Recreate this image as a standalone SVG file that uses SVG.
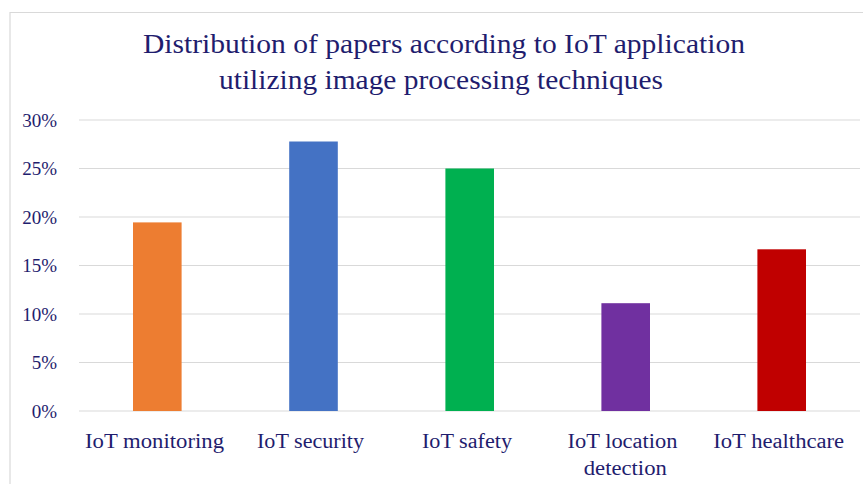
<svg xmlns="http://www.w3.org/2000/svg" width="863" height="484" viewBox="0 0 863 484">
  <style>
    .txt { font-family: "Liberation Serif", "DejaVu Serif", serif; fill: #1F1D6E; }
    .title { font-size: 27px; text-anchor: middle; }
    .ytick { font-size: 19px; text-anchor: end; }
    .xcat { font-size: 20.5px; text-anchor: middle; }
    .grid { stroke: #D9D9D9; stroke-width: 1.2; }
    .frame { stroke: #D9D9D9; stroke-width: 1.2; fill: none; }
  </style>

  <rect x="0" y="0" width="863" height="484" fill="#FFFFFF"/>
  <!-- chart area border -->
  <path class="frame" d="M10,490 V12.5 H870"/>

  <!-- title -->
  <g id="title">
    <text class="txt title" x="444" y="52.5" textLength="602" lengthAdjust="spacingAndGlyphs">Distribution of papers according to IoT application</text>
    <text class="txt title" x="441" y="88.5" textLength="444" lengthAdjust="spacingAndGlyphs">utilizing image processing techniques</text>
  </g>

  <!-- gridlines and value axis -->
  <g id="gridlines">
    <line class="grid" x1="79" y1="120" x2="860" y2="120"/>
    <line class="grid" x1="79" y1="168.5" x2="860" y2="168.5"/>
    <line class="grid" x1="79" y1="217" x2="860" y2="217"/>
    <line class="grid" x1="79" y1="265.5" x2="860" y2="265.5"/>
    <line class="grid" x1="79" y1="314" x2="860" y2="314"/>
    <line class="grid" x1="79" y1="362.5" x2="860" y2="362.5"/>
    <line class="grid" x1="79" y1="411" x2="860" y2="411"/>
  </g>
  <g id="y-axis">
    <text class="txt ytick" x="57" y="126.5">30%</text>
    <text class="txt ytick" x="57" y="175">25%</text>
    <text class="txt ytick" x="57" y="223.5">20%</text>
    <text class="txt ytick" x="57" y="272">15%</text>
    <text class="txt ytick" x="57" y="320.5">10%</text>
    <text class="txt ytick" x="57" y="369">5%</text>
    <text class="txt ytick" x="57" y="417.5">0%</text>
  </g>

  <!-- bars -->
  <g id="bar-monitoring"><rect x="133" y="222.4" width="48.6" height="188.6" fill="#ED7D31"/></g>
  <g id="bar-security"><rect x="289.2" y="141.5" width="48.6" height="269.5" fill="#4472C4"/></g>
  <g id="bar-safety"><rect x="445.4" y="168.5" width="48.6" height="242.5" fill="#00B050"/></g>
  <g id="bar-location"><rect x="601.4" y="303.2" width="48.6" height="107.8" fill="#7030A0"/></g>
  <g id="bar-healthcare"><rect x="757.4" y="249.3" width="48.6" height="161.7" fill="#C00000"/></g>

  <!-- category labels -->
  <g id="x-axis">
    <text class="txt xcat" x="154.5" y="448" textLength="139" lengthAdjust="spacingAndGlyphs">IoT monitoring</text>
    <text class="txt xcat" x="310.5" y="448" textLength="107" lengthAdjust="spacingAndGlyphs">IoT security</text>
    <text class="txt xcat" x="467" y="448" textLength="90" lengthAdjust="spacingAndGlyphs">IoT safety</text>
    <text class="txt xcat" x="622.5" y="448" textLength="110" lengthAdjust="spacingAndGlyphs">IoT location</text>
    <text class="txt xcat" x="625.3" y="474.5" textLength="83" lengthAdjust="spacingAndGlyphs">detection</text>
    <text class="txt xcat" x="778.7" y="448" textLength="131" lengthAdjust="spacingAndGlyphs">IoT healthcare</text>
  </g>
</svg>
